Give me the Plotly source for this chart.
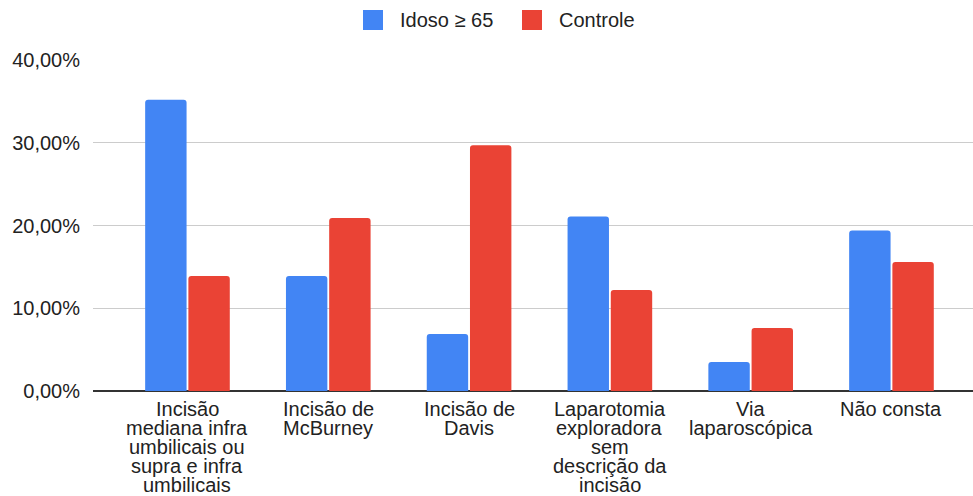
import plotly.graph_objects as go

categories = [
    "Incisão\nmediana infra\numbilicais ou\nsupra e infra\numbilicais",
    "Incisão de\nMcBurney",
    "Incisão de\nDavis",
    "Laparotomia\nexploradora\nsem\ndescrição da\nincisão",
    "Via\nlaparoscópica",
    "Não consta",
]
idoso = [0.352, 0.139, 0.069, 0.211, 0.035, 0.194]
controle = [0.139, 0.209, 0.297, 0.122, 0.076, 0.156]
series_names = ["Idoso ≥ 65", "Controle"]
series_colors = ["#4285F4", "#EA4335"]
y_ticks = [0, 0.1, 0.2, 0.3, 0.4]

FONT = "Liberation Sans, Arial, sans-serif"
TEXT = "#222222"
FS = 20

xs = list(range(len(categories)))

fig = go.Figure()
for name, vals, color in zip(series_names, [idoso, controle], series_colors):
    fig.add_trace(go.Bar(
        x=xs, y=vals, name=name, marker_color=color,
        marker_line_width=0, showlegend=False,
    ))

# Category labels: one annotation per wrapped line, with tight line spacing
for i, label in enumerate(categories):
    for k, line in enumerate(label.split("\n")):
        fig.add_annotation(
            text=line, xref="x", yref="paper", x=i, y=0,
            xanchor="center", yanchor="middle", showarrow=False,
            yshift=-(18 + 19 * k),
            font=dict(family=FONT, size=FS, color=TEXT),
        )

# Legend drawn as swatches with labels, centred above the plot
legend_items = [(series_names[0], series_colors[0], 363), (series_names[1], series_colors[1], 522)]
for name, color, x0 in legend_items:
    fig.add_shape(
        type="rect", xref="paper", yref="paper",
        x0=(x0 - 93) / 880, x1=(x0 + 20 - 93) / 880,
        y0=(391 - 30) / 331, y1=(391 - 10) / 331,
        fillcolor=color, line_width=0, layer="above",
    )
    fig.add_annotation(
        text=name, xref="paper", yref="paper",
        x=(x0 + 35 - 93) / 880, y=(391 - 20) / 331,
        xanchor="left", yanchor="middle", showarrow=False,
        font=dict(family=FONT, size=FS, color=TEXT),
    )

fig.update_layout(
    width=973, height=496,
    margin=dict(l=93, r=0, t=60, b=105, autoexpand=False),
    paper_bgcolor="white", plot_bgcolor="white",
    separators=",.",
    barmode="group", bargap=0.386, bargroupgap=0.042,
    barcornerradius=3,
    font=dict(family=FONT, size=FS, color=TEXT),
)
fig.update_xaxes(
    range=[-0.671, 5.579], automargin=False,
    tickmode="array", tickvals=xs, showticklabels=False,
    showgrid=False, zeroline=False, showline=False, ticks="",
)
fig.update_yaxes(
    range=[0, 0.4], automargin=False, tickmode="array", tickvals=y_ticks,
    tickformat=".2%",
    showgrid=True, gridcolor="#cccccc", gridwidth=1.3,
    zeroline=True, zerolinecolor="#333333", zerolinewidth=1.8,
    showline=False, ticks="", ticklabelstandoff=12,
    tickfont=dict(family=FONT, size=FS, color=TEXT),
)

fig.write_html("out.html")
